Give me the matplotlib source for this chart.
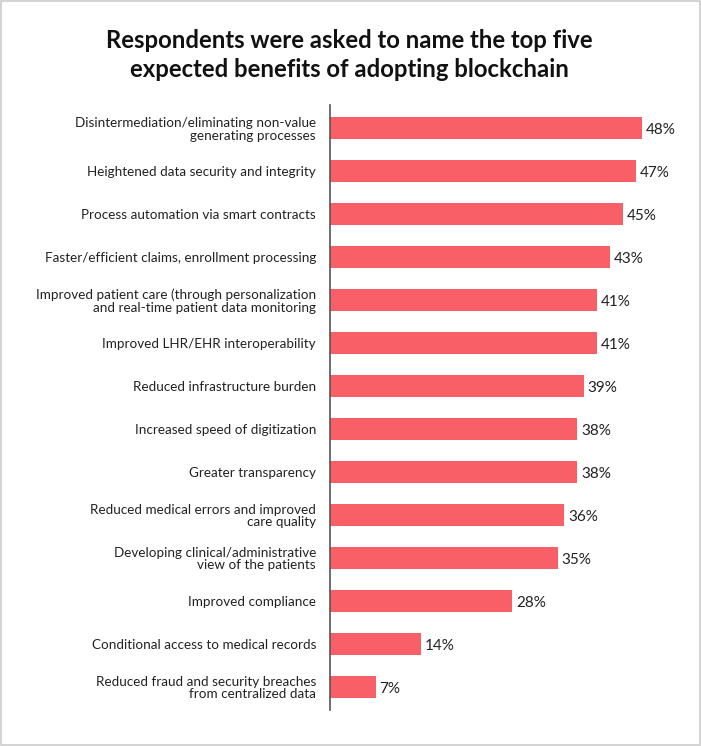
import matplotlib.pyplot as plt
from matplotlib.patches import Rectangle

plt.rcParams["font.family"] = ["Lato", "DejaVu Sans"]

categories = [
    "Disintermediation/eliminating non-value\ngenerating processes",
    "Heightened data security and integrity",
    "Process automation via smart contracts",
    "Faster/efficient claims, enrollment processing",
    "Improved patient care (through personalization\nand real-time patient data monitoring",
    "Improved LHR/EHR interoperability",
    "Reduced infrastructure burden",
    "Increased speed of digitization",
    "Greater transparency",
    "Reduced medical errors and improved\ncare quality",
    "Developing clinical/administrative\nview of the patients",
    "Improved compliance",
    "Conditional access to medical records",
    "Reduced fraud and security breaches\nfrom centralized data",
]
values = [48, 47, 45, 43, 41, 41, 39, 38, 38, 36, 35, 28, 14, 7]

bar_color = "#F95F66"

fig = plt.figure(figsize=(7.01, 7.46), dpi=100)
fig.patches.append(Rectangle((0.001, 0.001), 0.997, 0.997, transform=fig.transFigure,
                             fill=False, edgecolor="#cccccc", linewidth=1.2))

W, H = 701, 746
ax = fig.add_axes([330 / W, 1 - 710 / H, 360 / W, 605 / H])

ypos = list(range(len(values)))
ax.barh(ypos, values, height=0.51, color=bar_color)
ax.set_ylim(len(values) - 1 + 0.535, -0.535)
ax.set_xlim(0, 360 / 6.5)

for y, v in zip(ypos, values):
    ax.text(v + 0.6, y + 0.05, f"{v}%", va="center", ha="left", fontsize=11, color="#222222")

ax.set_yticks(ypos)
ax.set_yticklabels(categories, fontsize=9.7, color="#222222", linespacing=1.05)
ax.tick_params(axis="y", length=0, pad=10)
ax.set_xticks([])
for s in ["top", "right", "bottom"]:
    ax.spines[s].set_visible(False)
ax.spines["left"].set_color("#555555")
ax.spines["left"].set_linewidth(1.2)

fig.text(349 / W, 1 - 55 / H,
         "Respondents were asked to name the top five\nexpected benefits of adopting blockchain",
         ha="center", va="center", fontsize=17.2, fontweight="bold", color="#111111",
         linespacing=1.3)

fig.savefig("out.png", dpi=100)
